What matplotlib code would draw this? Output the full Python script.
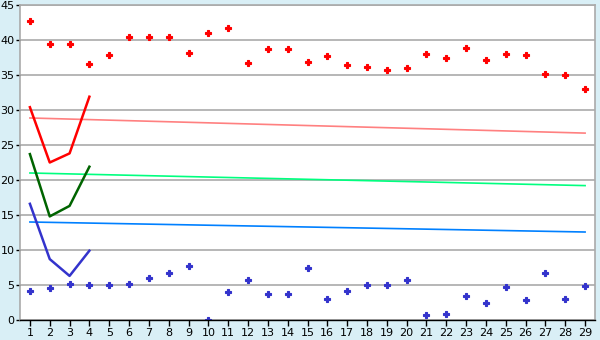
import matplotlib
matplotlib.use("Agg")
import matplotlib.pyplot as plt
import numpy as np

days = list(range(1, 30))
red_points = [42.7, 39.4, 39.4, 36.6, 37.8, 40.4, 40.4, 40.4, 38.2, 41.0,
              41.7, 36.7, 38.7, 38.7, 36.9, 37.7, 36.4, 36.1, 35.7, 36.0,
              38.0, 37.4, 38.9, 37.1, 38.0, 37.9, 35.1, 35.0, 33.0]
blue_points = [4.1, 4.6, 5.1, 5.0, 5.0, 5.1, 6.0, 6.7, 7.7, 0.0,
               4.0, 5.7, 3.7, 3.7, 7.4, 3.0, 4.1, 5.0, 5.0, 5.7,
               0.7, 0.86, 3.4, 2.4, 4.7, 2.86, 6.7, 3.0, 4.86]
line_x = [1, 2, 3, 4]
red_line = [30.4, 22.5, 23.8, 31.9]
green_line = [23.7, 14.8, 16.3, 21.9]
blue_line = [16.6, 8.7, 6.3, 9.9]
trend_x = [1, 29]
pink_trend = [28.86, 26.7]
green_trend = [21.0, 19.2]
blue_trend = [14.0, 12.57]
yticks = [0, 5, 10, 15, 20, 25, 30, 35, 40, 45]

bg = "#d9eff6"
fig = plt.figure(figsize=(6, 3.4), dpi=100, facecolor=bg)
ax = fig.add_axes([20/600, 20/340, 575/600, 315/340])
ax.set_facecolor("white")

for t in yticks:
    ax.axhline(t, color="#aaaaaa", lw=1.2, zorder=0)

ax.plot(trend_x, pink_trend, color="#ff8080", lw=1.2)
ax.plot(trend_x, green_trend, color="#00ff7f", lw=1.2)
ax.plot(trend_x, blue_trend, color="#0080ff", lw=1.2)

ax.plot(line_x, red_line, color="#ff0000", lw=1.8)
ax.plot(line_x, green_line, color="#006400", lw=1.8)
ax.plot(line_x, blue_line, color="#3333cc", lw=1.8)

ax.plot(days, red_points, ls="none", marker="P", ms=4.5, color="#ff0000",
        mec="#ff0000", mew=0.8)
ax.plot(days, blue_points, ls="none", marker="P", ms=4.5, color="#3333cc",
        mec="#3333cc", mew=0.8)

ax.set_xlim(0.5, 29.5)
ax.set_ylim(0, 45)
ax.set_xticks(days)
ax.set_yticks(yticks)
ax.tick_params(axis="both", labelsize=8, colors="black", width=1)
ax.tick_params(axis="y", length=3, pad=1)
ax.tick_params(axis="x", length=4, pad=2)
for s in ["top", "right", "left"]:
    ax.spines[s].set_color("#aaaaaa")
    ax.spines[s].set_linewidth(1.2)
ax.spines["bottom"].set_color("black")
ax.spines["bottom"].set_linewidth(1)

fig.savefig("out.png", dpi=100, facecolor=bg)
